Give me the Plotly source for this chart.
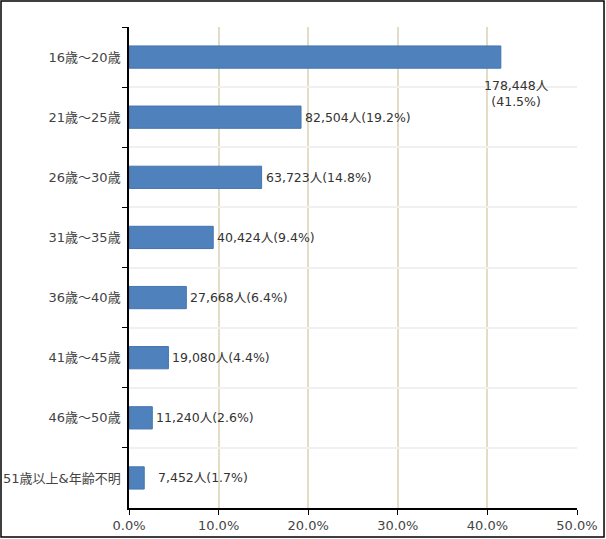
import plotly.graph_objects as go

ages = ["16歳～20歳", "21歳～25歳", "26歳～30歳", "31歳～35歳",
        "36歳～40歳", "41歳～45歳", "46歳～50歳", "51歳以上&年齢不明"]
counts = [178448, 82504, 63723, 40424, 27668, 19080, 11240, 7452]
shares = [41.5, 19.2, 14.8, 9.4, 6.4, 4.4, 2.6, 1.7]

font = "DejaVu Sans, Noto Sans CJK JP"

fig = go.Figure()
fig.add_trace(go.Bar(
    x=[s / 100 for s in shares], y=ages, orientation="h",
    marker=dict(color="#4f81bd", line=dict(color="#4475b0", width=1)),
    width=0.37, hoverinfo="skip",
))

# labels beside the bars, the longest one sits under its bar end
for i, (a, c, s) in enumerate(zip(ages, counts, shares)):
    if i == 0:
        fig.add_annotation(x=s / 100, y=a, text=f"{c:,}人<br>({s}%)",
                           xanchor="center", yanchor="top", yshift=-19,
                           xshift=16, showarrow=False, align="center",
                           font=dict(family=font, size=12.5, color="#333"))
    else:
        fig.add_annotation(x=s / 100, y=a, text=f"{c:,}人({s}%)",
                           xanchor="left", xshift=12 if i == 7 else 2,
                           showarrow=False,
                           font=dict(family=font, size=12.5, color="#333"))

fig.update_layout(
    width=606, height=539,
    margin=dict(l=129, r=29, t=27, b=31),
    paper_bgcolor="white", plot_bgcolor="white",
    showlegend=False,
    font=dict(family=font, size=12, color="#444"),
    xaxis=dict(range=[0, 0.5], dtick=0.1, tickformat=".1%",
               showgrid=True, gridcolor="#e4ddc6", gridwidth=1.5,
               zeroline=False, showline=True, linecolor="black",
               linewidth=1.5, ticks="outside", ticklen=5,
               tickcolor="black", tickfont=dict(size=13, color="#444"),
               automargin=False),
    yaxis=dict(range=[7.5, -0.5], tickson="boundaries",
               showgrid=True, gridcolor="#f0f0f0", gridwidth=1.5,
               showline=True, linecolor="black", linewidth=1.5,
               ticks="outside", ticklen=5, tickcolor="black",
               ticklabelstandoff=4,
               tickfont=dict(size=13, color="#444"), automargin=False),
    shapes=[dict(type="rect", xref="paper", yref="paper",
                 x0=-0.2857, x1=1.0603, y0=-0.0603, y1=1.054,
                 line=dict(color="black", width=1.5))],
)

fig.write_html("out.html", config={"displayModeBar": False},
               post_script="document.body.style.margin='0';")
